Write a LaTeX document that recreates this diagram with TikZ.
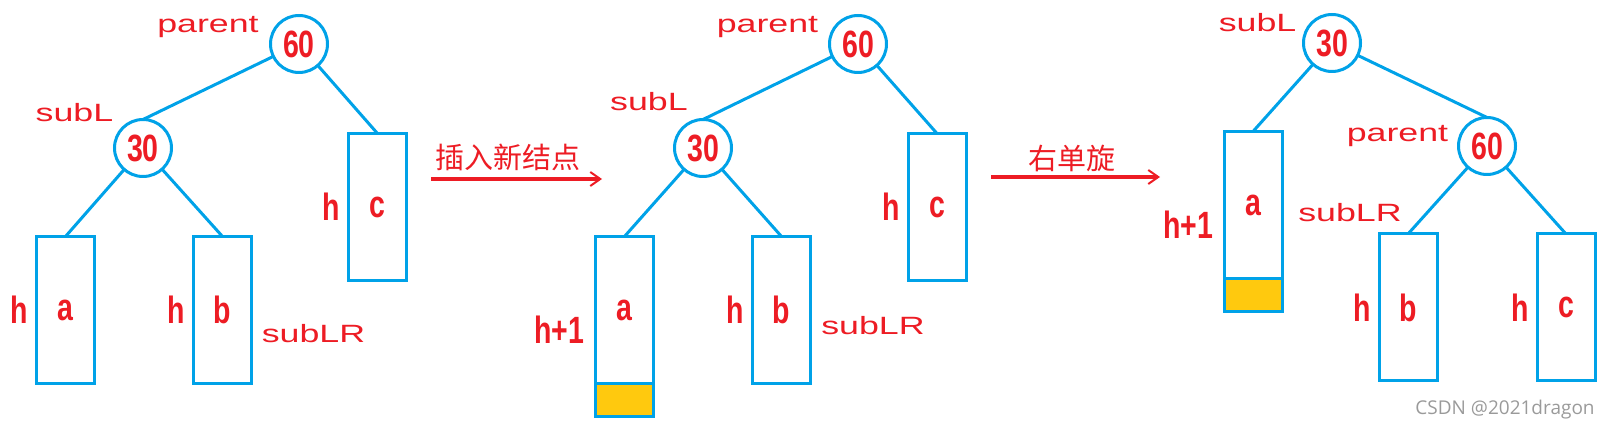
\documentclass[tikz,border=0pt]{standalone}
\usepackage{fontspec}
\usepackage{xcolor}
\usepackage{tikz}
\usetikzlibrary{positioning,arrows.meta}
\newfontfamily\numfont[FakeStretch=0.75]{Liberation Sans}
\newfontfamily\tagfont[FakeStretch=1.43]{Liberation Sans}
\newfontfamily\cjk{Noto Sans CJK SC}
\newfontfamily\wmfont{Open Sans}
\definecolor{lblred}{HTML}{ED1C24}
\definecolor{treeblue}{HTML}{00A2E8}
\definecolor{padyellow}{HTML}{FFC90E}
\definecolor{wmgray}{HTML}{9A9A9A}

\begin{document}
\begin{tikzpicture}[
            x=1pt, y=-1pt,
            circ/.style={circle, draw=treeblue, line width=3pt, fill=white, minimum size=57pt, inner sep=0pt, outer sep=0pt, text=lblred, font=\numfont\bfseries\fontsize{38}{40}\selectfont},
            box/.style={rectangle, draw=treeblue, line width=3pt, fill=white, minimum width=58pt, minimum height=147pt, inner sep=0pt, outer sep=0pt, text=lblred, font=\numfont\bfseries\fontsize{38}{40}\selectfont},
            pad/.style={box, fill=padyellow, minimum height=33pt},
            hnote/.style={inner sep=0pt, text=lblred, font=\numfont\bfseries\fontsize{38}{40}\selectfont},
            tag/.style={inner sep=0pt, anchor=base, text=lblred, font=\tagfont\fontsize{25}{28}\selectfont},
            note/.style={inner sep=0pt, text=lblred, font=\cjk\fontsize{29}{32}\selectfont},
            edge/.style={draw=treeblue, line width=3pt},
            arrow/.style={draw=lblred, line width=3.5pt, -{Straight Barb[length=10pt,width=14pt,line width=2pt]}}
        ]
        \useasboundingbox (0,0) rectangle (1610,430);
        
        % before insertion
        \node[circ] (p1) at (299,44) {60};
        \node[circ] (s1) at (143,148) {30};
        \node[box] (a1) at (65.5,310) {a};
        \node[box] (b1) at (222.5,310) {b};
        \node[box] (c1) at (377.5,207) {c};
        \node[hnote, left=8pt of a1] (ha1) {h};
        \node[hnote, left=8pt of b1] (hb1) {h};
        \node[hnote, left=8pt of c1] (hc1) {h};
        \node[tag] (tp1) at (208,33) {parent};
        \node[tag] (ts1) at (74.5,122) {subL};
        \node[tag] (tr1) at (313.5,343) {subLR};
        
        \draw[edge] (p1) -- (s1.north);
        \draw[edge] (p1) -- (c1.north);
        \draw[edge] (s1) -- (a1.north);
        \draw[edge] (s1) -- (b1.north);
        
        % after insertion
        \node[circ] (p2) at (858,44) {60};
        \node[circ] (s2) at (703,148) {30};
        \node[box] (a2) at (624.5,310) {a};
        \node[pad, below=0pt of a2] (a2y) {};
        \node[box] (b2) at (781.5,310) {b};
        \node[box] (c2) at (937,207) {c};
        \node[hnote, anchor=base] (ha2) at (559.5,344) {h+1};
        \node[hnote, left=8pt of b2] (hb2) {h};
        \node[hnote, left=8pt of c2] (hc2) {h};
        \node[tag] (tp2) at (767.5,33) {parent};
        \node[tag] (ts2) at (649,111) {subL};
        \node[tag] (tr2) at (873,335) {subLR};
        
        \draw[edge] (p2) -- (s2.north);
        \draw[edge] (p2) -- (c2.north);
        \draw[edge] (s2) -- (a2.north);
        \draw[edge] (s2) -- (b2.north);
        
        % after right rotation
        \node[circ] (s3) at (1332,43) {30};
        \node[circ] (p3) at (1487,146) {60};
        \node[box] (a3) at (1253,205) {a};
        \node[pad, below=0pt of a3] (a3y) {};
        \node[box] (b3) at (1408,307.5) {b};
        \node[box] (c3) at (1566,307.5) {c};
        \node[hnote, anchor=base] (ha3) at (1188.5,239) {h+1};
        \node[hnote, left=8pt of b3] (hb3) {h};
        \node[hnote, left=8pt of c3] (hc3) {h};
        \node[tag] (ts3) at (1257.5,31.5) {subL};
        \node[tag] (tp3) at (1397.5,142) {parent};
        \node[tag] (tr3) at (1350,222) {subLR};
        
        \draw[edge] (s3) -- (a3.north);
        \draw[edge] (s3) -- (p3.north);
        \draw[edge] (p3) -- (b3.north);
        \draw[edge] (p3) -- (c3.north);
        
        % step arrows
        \coordinate (ins0) at (431,179);
        \coordinate (ins1) at (602,179);
        \coordinate (rot0) at (991,177);
        \coordinate (rot1) at (1160,177);
        \draw[arrow] (ins0) -- (ins1);
        \draw[arrow] (rot0) -- (rot1);
        \node[note] (insTxt) at (508,157) {插入新结点};
        \node[note] (rotTxt) at (1072,158) {右单旋};
        
        \node[inner sep=0pt, anchor=base, text=wmgray, font=\wmfont\fontsize{19}{22}\selectfont] (mark) at (1505,414) {CSDN @2021dragon};
        
        \end{tikzpicture}
\end{document}
